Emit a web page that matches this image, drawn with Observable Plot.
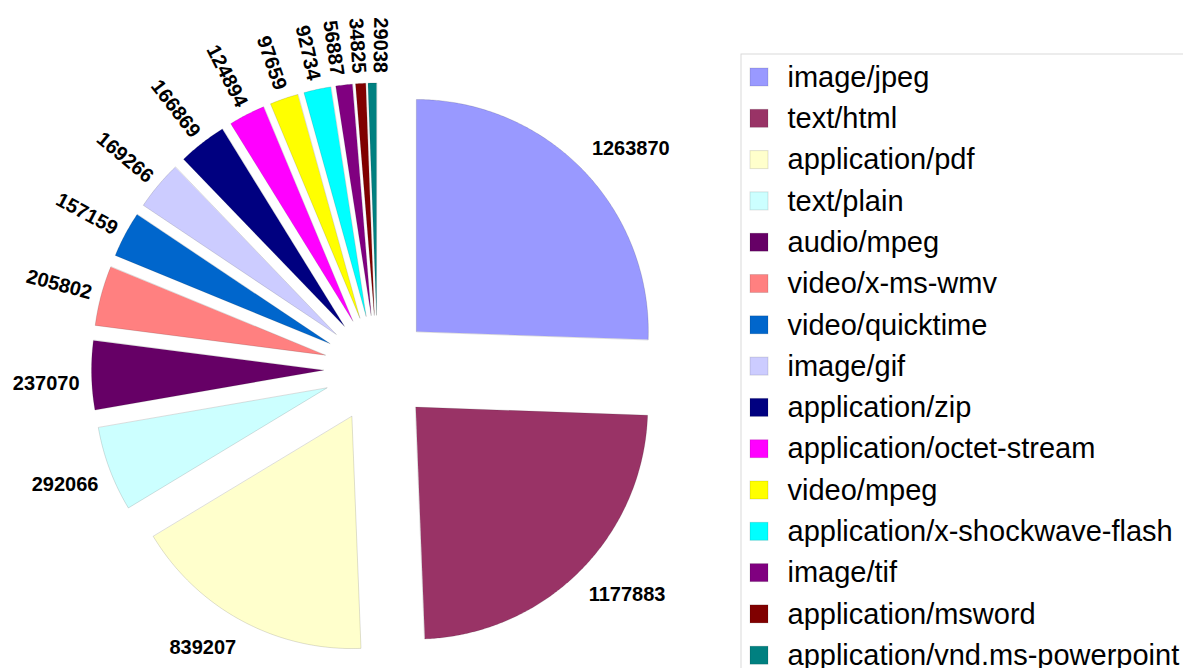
<!DOCTYPE html>
<html>
<head>
<meta charset="utf-8">
<script src="https://cdn.jsdelivr.net/npm/d3@7"></script>
<script src="https://cdn.jsdelivr.net/npm/@observablehq/plot@0.6"></script>
<style>
  html, body { margin: 0; padding: 0; background: #fff; }
  #chart svg { display: block; }
</style>
</head>
<body>
<div id="chart"></div>
<script>
// ---- data ----
const types = [
  "image/jpeg", "text/html", "application/pdf", "text/plain", "audio/mpeg",
  "video/x-ms-wmv", "video/quicktime", "image/gif", "application/zip",
  "application/octet-stream", "video/mpeg", "application/x-shockwave-flash",
  "image/tif", "application/msword", "application/vnd.ms-powerpoint"
];
const values = [
  1263870, 1177883, 839207, 292066, 237070,
  205802, 157159, 169266, 166869,
  124894, 97659, 92734,
  56887, 34825, 29038
];
const colors = [
  "#9999ff", "#993366", "#ffffcc", "#ccffff", "#660066",
  "#ff8080", "#0066cc", "#ccccff", "#000080",
  "#ff00ff", "#ffff00", "#00ffff",
  "#800080", "#800000", "#008080"
];

// ---- layout ----
const W = 1183, H = 668;
const cx = 377, cy = 368.5, R = 232, EXPLODE = 54;
const FONT = "'Liberation Sans', Arial, Helvetica, sans-serif";

const arcs = d3.pie().sort(null).value(d => d)(values);
const slices = arcs.map((a, i) => {
  const mid = (a.startAngle + a.endAngle) / 2;
  return {
    type: types[i], value: values[i], s: a.startAngle, e: a.endAngle, mid,
    ox: cx + EXPLODE * Math.sin(mid), oy: cy - EXPLODE * Math.cos(mid)
  };
});

// polygon vertices for each slice
const verts = [];
for (const sl of slices) {
  verts.push({type: sl.type, x: sl.ox, y: sl.oy});
  const n = Math.max(2, Math.ceil((sl.e - sl.s) / 0.008));
  for (let k = 0; k <= n; k++) {
    const a = sl.s + (sl.e - sl.s) * k / n;
    verts.push({type: sl.type, x: sl.ox + R * Math.sin(a), y: sl.oy - R * Math.cos(a)});
  }
}

// ---- labels ----
const deg = r => r * 180 / Math.PI;
const groups = {};
const rotSlices = [];
for (const sl of slices) {
  const md = deg(sl.mid);
  if (md > 270) { rotSlices.push({sl, a: sl.mid}); continue; }
  const dx = Math.sin(sl.mid), dy = -Math.cos(sl.mid);
  const d = R + 12;
  const key = (dx < 0 ? "end" : "start") + "|" + (dy < 0 ? "bottom" : "top");
  (groups[key] = groups[key] || []).push({
    label: String(sl.value), x: sl.ox + d * dx, y: sl.oy + d * dy + 10 * dy
  });
}
// spread radial labels so they do not overlap
rotSlices.sort((p, q) => q.a - p.a);
const minSep = 21 / 272;
for (let it = 0; it < 200; it++) {
  for (let i = 0; i < rotSlices.length - 1; i++) {
    const gap = rotSlices[i].a - rotSlices[i + 1].a;
    if (gap < minSep) {
      const push = (minSep - gap) / 2;
      rotSlices[i].a += push;
      rotSlices[i + 1].a -= push;
    }
  }
}
const rotated = rotSlices.map(({sl, a}) => {
  const d = R + 10;
  return {label: String(sl.value), x: sl.ox + d * Math.sin(a), y: sl.oy - d * Math.cos(a), rot: deg(a) - 270};
});

const labelMarks = Object.entries(groups).map(([key, data]) => {
  const [ta, la] = key.split("|");
  return Plot.text(data, {x: "x", y: "y", text: "label", textAnchor: ta, lineAnchor: la,
    fontSize: 20, fontWeight: "bold", fill: "#000"});
});

// legend layout
const legX = 741, legY = 54, rowH = 41.3, firstRow = 77;
const legend = types.map((t, i) => ({type: t, y: firstRow + i * rowH}));

const chart = Plot.plot({
  width: W, height: H, margin: 0,
  style: {fontFamily: FONT, background: "#fff", overflow: "hidden"},
  x: {domain: [0, W], range: [0, W], axis: null},
  y: {domain: [0, H], range: [0, H], axis: null},
  color: {domain: types, range: colors},
  marks: [
    Plot.line(verts, {x: "x", y: "y", z: "type", fill: "type", stroke: "#000",
      strokeOpacity: 0.22, strokeWidth: 0.6, curve: "linear-closed"}),
    ...labelMarks,
    Plot.text(rotated, {x: "x", y: "y", text: "label", rotate: "rot", textAnchor: "end",
      lineAnchor: "middle", fontSize: 20, fontWeight: "bold", fill: "#000"}),
    // legend frame
    Plot.rect([0], {x1: legX, y1: legY, x2: W + 20, y2: H + 20, fill: "none", stroke: "#d9d9d9", strokeWidth: 1}),
    Plot.rect(legend, {x1: 750, x2: 768, y1: d => d.y - 9, y2: d => d.y + 9, fill: "type",
      stroke: "#000", strokeOpacity: 0.12, strokeWidth: 1}),
    Plot.text(legend, {x: 787, y: "y", text: "type", textAnchor: "start", lineAnchor: "middle",
      fontSize: 29, fill: "#000"})
  ]
});
document.getElementById("chart").append(chart);
</script>
</body>
</html>
